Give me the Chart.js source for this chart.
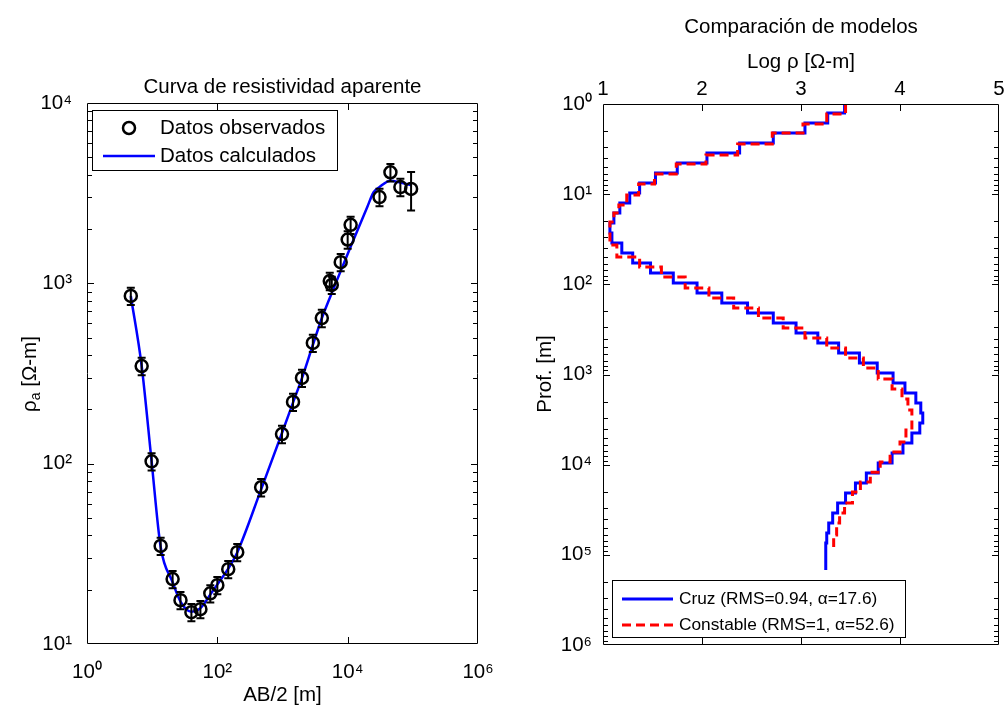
<!DOCTYPE html>
<html>
<head>
<meta charset="utf-8">
<script src="https://cdn.jsdelivr.net/npm/chart.js@4.4.1/dist/chart.umd.min.js"></script>
<style>
  html, body { margin: 0; padding: 0; background: #fff; }
  #wrap { position: relative; width: 1008px; height: 706px; }
  canvas { position: absolute; top: 0; }
  #left { left: 0; }
  #right { left: 504px; }
</style>
</head>
<body>
<div id="wrap">
  <canvas id="left" width="504" height="706"></canvas>
  <canvas id="right" width="504" height="706"></canvas>
</div>
<script>
// --- Curva de resistividad aparente ---
const abHalf = [4.7, 6.9, 9.8, 13.5, 20.6, 27.2, 40, 55, 78, 100, 147, 202, 470, 982, 1450, 1990, 2920, 4010, 5310, 5700, 7820, 10000, 11100, 30800, 45300, 64400, 94000];
const rhoObs = [851, 348, 103, 35, 22.9, 17.5, 15.0, 15.6, 19.1, 21.2, 26, 32.3, 74, 146, 220, 299, 467, 642, 1030, 980, 1310, 1750, 2110, 3010, 4130, 3420, 3340];
const obsErrPct = [11, 11, 11, 11, 11, 11, 11, 11, 11, 11, 11, 11, 11, 11, 11, 11, 11, 11, 11, 11, 11, 11, 11, 11, 11, 11, 24];
const abCalc = [4.7, 6.9, 9.8, 13.5, 20.6, 27.2, 40, 55, 78, 100, 147, 202, 470, 982, 1450, 1990, 2920, 4010, 5310, 7820, 10000, 11100, 20000, 25000, 30800, 45300, 64400, 94000];
const rhoCalc = [851, 348, 103, 34.5, 22, 17.2, 15.1, 15.8, 18.8, 21.4, 26.2, 32.2, 72, 148, 218, 298, 455, 640, 830, 1170, 1455, 1594, 2650, 3200, 3420, 3700, 3620, 3500];
const xTicksLeft = [1, 100, 1e4, 1e6];
const yTicksLeft = [10, 100, 1000, 1e4];

// --- Comparacion de modelos (capas: profundidad de techo [m], log rho) ---
const cruzTop = [1, 1.26, 1.62, 2.10, 2.71, 3.49, 4.51, 5.82, 7.52, 9.70, 12.5, 16.2, 20.9, 27.0, 34.8, 44.9, 58.0, 74.9, 96.6, 125, 161, 208, 268, 346, 447, 577, 745, 962, 1240, 1600, 2070, 2670, 3450, 4450, 5750, 7420, 9580, 12400, 16000, 20600, 26600, 34300, 44300, 57200, 73900];
const cruzLogRho = [3.44, 3.27, 3.04, 2.72, 2.38, 2.05, 1.75, 1.53, 1.37, 1.27, 1.17, 1.11, 1.07, 1.09, 1.19, 1.30, 1.48, 1.71, 1.95, 2.20, 2.46, 2.72, 2.95, 3.17, 3.38, 3.59, 3.77, 3.93, 4.05, 4.16, 4.21, 4.23, 4.20, 4.12, 4.03, 3.92, 3.78, 3.66, 3.55, 3.45, 3.37, 3.32, 3.28, 3.26, 3.25];
const cruzBottom = 147000;
const constTop = [1, 1.29, 1.67, 2.10, 2.78, 3.68, 4.63, 5.97, 7.71, 10.2, 13.2, 16.2, 20.4, 36.6, 49.8, 64.2, 82.9, 110, 142, 183, 236, 305, 394, 508, 656, 847, 1120, 1450, 1870, 2480, 4130, 5600, 7230, 9340, 12100, 15600, 20100, 26600, 34400, 44400, 60300];
const constLogRho = [3.45, 3.26, 3.02, 2.71, 2.36, 2.04, 1.74, 1.52, 1.36, 1.24, 1.16, 1.11, 1.07, 1.14, 1.37, 1.59, 1.83, 2.07, 2.32, 2.57, 2.82, 3.04, 3.26, 3.45, 3.63, 3.78, 3.92, 4.02, 4.08, 4.12, 4.06, 4.00, 3.90, 3.80, 3.70, 3.60, 3.52, 3.44, 3.39, 3.36, 3.33];
const constBottom = 81900;
const xTicksRight = [1, 2, 3, 4, 5];
const yTicksRight = [1, 10, 100, 1000, 1e4, 1e5, 1e6];

const FONT = "'Liberation Sans', Arial, Helvetica, sans-serif";
const FS = 20.5;
Chart.defaults.font.family = FONT;
Chart.defaults.color = '#000';

const SUP = '⁰¹²³⁴⁵⁶⁷⁸⁹';
const powLabel = v => '10' + String(Math.round(Math.log10(v))).split('').map(c => SUP[+c]).join('');

// box + inward tick marks on all four sides (MATLAB style)
const frame = {
  id: 'frame',
  afterDatasetsDraw(chart, args, o) {
    const { ctx, chartArea: a } = chart;
    const xs = chart.scales.x, ys = chart.scales.y;
    ctx.save();
    ctx.strokeStyle = '#000';
    ctx.lineWidth = 1;
    ctx.beginPath();
    ctx.rect(a.left + 0.5, a.top + 0.5, a.right - a.left - 1, a.bottom - a.top - 1);
    (o.xMajor || []).forEach(v => {
      const p = Math.round(xs.getPixelForValue(v)) + 0.5;
      ctx.moveTo(p, a.bottom); ctx.lineTo(p, a.bottom - o.len);
      ctx.moveTo(p, a.top); ctx.lineTo(p, a.top + o.len);
    });
    const yt = (o.yMajor || []).map(v => [v, o.len]);
    if (o.yMinor) {
      for (let k = Math.round(Math.log10(ys.min)); k < Math.round(Math.log10(ys.max)); k++) {
        for (let m = 2; m <= 9; m++) yt.push([m * Math.pow(10, k), o.minorLen]);
      }
    }
    yt.forEach(([v, len]) => {
      const p = Math.round(ys.getPixelForValue(v)) + 0.5;
      ctx.moveTo(a.left, p); ctx.lineTo(a.left + len, p);
      ctx.moveTo(a.right, p); ctx.lineTo(a.right - len, p);
    });
    ctx.stroke();
    ctx.restore();
  }
};

// vertical error bars with caps for datasets carrying errPct
const errorBars = {
  id: 'errorBars',
  afterDatasetsDraw(chart) {
    const { ctx } = chart;
    const xs = chart.scales.x, ys = chart.scales.y;
    ctx.save();
    ctx.strokeStyle = '#000';
    ctx.lineWidth = 2;
    chart.data.datasets.forEach(ds => {
      if (!ds.errPct) return;
      ds.data.forEach((d, i) => {
        const e = d.y * ds.errPct[i] / 100;
        const x = xs.getPixelForValue(d.x);
        const y0 = ys.getPixelForValue(d.y - e), y1 = ys.getPixelForValue(d.y + e);
        ctx.beginPath();
        ctx.moveTo(x, y0); ctx.lineTo(x, y1);
        ctx.moveTo(x - 4, y0); ctx.lineTo(x + 4, y0);
        ctx.moveTo(x - 4, y1); ctx.lineTo(x + 4, y1);
        ctx.stroke();
      });
    });
    ctx.restore();
  }
};

// legend drawn inside the plot with a white box
const boxLegend = {
  id: 'boxLegend',
  afterDraw(chart, args, o) {
    const { ctx, chartArea: a } = chart;
    const x0 = a.left + o.dx;
    const y0 = o.fromBottom ? a.bottom - o.dy - o.h : a.top + o.dy;
    ctx.save();
    ctx.fillStyle = '#fff';
    ctx.fillRect(x0, y0, o.w, o.h);
    ctx.strokeStyle = '#000';
    ctx.lineWidth = 1;
    ctx.strokeRect(x0 + 0.5, y0 + 0.5, o.w, o.h);
    ctx.font = o.size + 'px ' + FONT;
    ctx.textBaseline = 'middle';
    chart.data.datasets.forEach((ds, i) => {
      const y = y0 + o.rows[i];
      ctx.save();
      if (ds.showLine === false) {
        ctx.strokeStyle = ds.pointBorderColor;
        ctx.lineWidth = ds.pointBorderWidth;
        ctx.beginPath();
        ctx.arc(x0 + (o.sample[0] + o.sample[1]) / 2, y, ds.pointRadius, 0, Math.PI * 2);
        ctx.stroke();
      } else {
        ctx.strokeStyle = ds.borderColor;
        ctx.lineWidth = ds.borderWidth;
        ctx.setLineDash(ds.borderDash || []);
        ctx.beginPath();
        ctx.moveTo(x0 + o.sample[0], y);
        ctx.lineTo(x0 + o.sample[1], y);
        ctx.stroke();
      }
      ctx.restore();
      ctx.fillStyle = '#000';
      ctx.fillText(ds.label, x0 + o.textX, y);
    });
    ctx.restore();
  }
};

// titles and axis labels (parts allow a subscript)
const texts = {
  id: 'texts',
  afterDraw(chart, args, o) {
    const { ctx } = chart;
    o.items.forEach(it => {
      ctx.save();
      ctx.fillStyle = '#000';
      ctx.textAlign = 'left';
      ctx.textBaseline = it.baseline || 'alphabetic';
      ctx.translate(it.x, it.y);
      if (it.rotate) ctx.rotate(it.rotate);
      const parts = it.parts || [{ t: it.text }];
      const fontOf = p => (p.sub ? 14 : FS) + 'px ' + FONT;
      let w = 0;
      parts.forEach(p => { ctx.font = fontOf(p); w += ctx.measureText(p.t).width; });
      let x = -w / 2;
      parts.forEach(p => {
        ctx.font = fontOf(p);
        ctx.fillText(p.t, x, p.sub ? 6 : 0);
        x += ctx.measureText(p.t).width;
      });
      ctx.restore();
    });
  }
};

const tickFont = { family: FONT, size: FS };

new Chart(document.getElementById('left'), {
  type: 'line',
  data: {
    datasets: [
      {
        label: 'Datos observados',
        data: abHalf.map((x, i) => ({ x, y: rhoObs[i] })),
        errPct: obsErrPct,
        showLine: false,
        pointStyle: 'circle',
        pointRadius: 6,
        pointBorderWidth: 2.5,
        pointBorderColor: '#000',
        pointBackgroundColor: 'rgba(0,0,0,0)',
        borderColor: '#000',
        order: 0
      },
      {
        label: 'Datos calculados',
        data: abCalc.map((x, i) => ({ x, y: rhoCalc[i] })),
        borderColor: '#0000ff',
        borderWidth: 2.5,
        pointRadius: 0,
        cubicInterpolationMode: 'monotone',
        order: 1
      }
    ]
  },
  plugins: [frame, errorBars, boxLegend, texts],
  options: {
    responsive: false,
    animation: false,
    layout: { padding: { top: 103, right: 26, bottom: 0, left: 0 } },
    plugins: {
      legend: { display: false },
      tooltip: { enabled: false },
      frame: { xMajor: [100, 1e4], yMajor: [100, 1000], yMinor: true, len: 7, minorLen: 5 },
      boxLegend: { dx: 5, dy: 7, w: 245, h: 60, rows: [18, 46], sample: [11, 63], textX: 68, size: FS },
      texts: {
        items: [
          { text: 'Curva de resistividad aparente', x: 282.5, y: 93 },
          { text: 'AB/2 [m]', x: 282.5, y: 701 },
          { parts: [{ t: 'ρ' }, { t: 'a', sub: true }, { t: ' [Ω-m]' }], x: 30, y: 374, rotate: -Math.PI / 2, baseline: 'middle' }
        ]
      }
    },
    scales: {
      x: {
        type: 'logarithmic',
        min: 1, max: 1e6,
        grid: { display: false },
        border: { display: false },
        afterBuildTicks: s => { s.ticks = xTicksLeft.map(v => ({ value: v })); },
        afterFit: s => { s.height = 62; },
        ticks: { autoSkip: false, maxRotation: 0, padding: 8, font: tickFont, callback: v => powLabel(v) }
      },
      y: {
        type: 'logarithmic',
        min: 10, max: 1e4,
        grid: { display: false },
        border: { display: false },
        afterBuildTicks: s => { s.ticks = yTicksLeft.map(v => ({ value: v })); },
        afterFit: s => { s.width = 87; },
        ticks: { autoSkip: false, padding: 7, font: tickFont, callback: v => powLabel(v) }
      }
    }
  }
});

const stairs = (tops, vals, bottom) => vals.flatMap((v, i) => [
  { x: v, y: tops[i] },
  { x: v, y: i + 1 < tops.length ? tops[i + 1] : bottom }
]);

new Chart(document.getElementById('right'), {
  type: 'line',
  data: {
    datasets: [
      {
        label: 'Cruz (RMS=0.94, α=17.6)',
        data: stairs(cruzTop, cruzLogRho, cruzBottom),
        borderColor: '#0000ff',
        borderWidth: 3,
        pointRadius: 0,
        order: 2
      },
      {
        label: 'Constable (RMS=1, α=52.6)',
        data: stairs(constTop, constLogRho, constBottom),
        borderColor: '#ff0000',
        borderWidth: 3,
        borderDash: [9, 5],
        pointRadius: 0,
        order: 1
      }
    ]
  },
  plugins: [frame, boxLegend, texts],
  options: {
    responsive: false,
    animation: false,
    layout: { padding: { top: 0, right: 9, bottom: 61, left: 0 } },
    plugins: {
      legend: { display: false },
      tooltip: { enabled: false },
      frame: { xMajor: [2, 3, 4], yMajor: [10, 100, 1000, 1e4, 1e5], yMinor: true, len: 7, minorLen: 5 },
      boxLegend: { dx: 9, dy: 8, fromBottom: true, w: 293, h: 57, rows: [19, 45], sample: [10, 61], textX: 67, size: 17.3 },
      texts: {
        items: [
          { text: 'Comparación de modelos', x: 297, y: 33 },
          { text: 'Log ρ [Ω-m]', x: 297, y: 68 },
          { text: 'Prof. [m]', x: 41, y: 374, rotate: -Math.PI / 2, baseline: 'middle' }
        ]
      }
    },
    scales: {
      x: {
        type: 'linear',
        position: 'top',
        min: 1, max: 5,
        grid: { display: false },
        border: { display: false },
        afterBuildTicks: s => { s.ticks = xTicksRight.map(v => ({ value: v })); },
        afterFit: s => { s.height = 104; },
        ticks: { autoSkip: false, maxRotation: 0, padding: -6, font: tickFont }
      },
      y: {
        type: 'logarithmic',
        reverse: true,
        min: 1, max: 1e6,
        grid: { display: false },
        border: { display: false },
        afterBuildTicks: s => { s.ticks = yTicksRight.map(v => ({ value: v })); },
        afterFit: s => { s.width = 99; },
        ticks: { autoSkip: false, padding: 3, font: tickFont, callback: v => powLabel(v) }
      }
    }
  }
});
</script>
</body>
</html>
